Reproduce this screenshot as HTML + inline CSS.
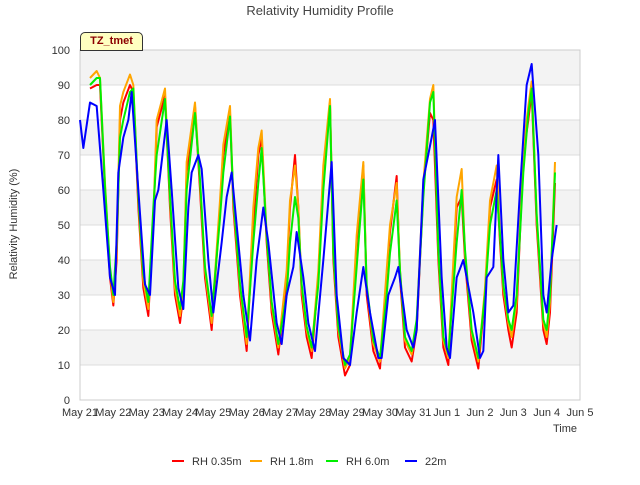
<!DOCTYPE html>
<html><head><meta charset="utf-8"><style>
body{margin:0;background:#fff;font-family:"Liberation Sans",sans-serif}
</style></head><body>
<svg id="c" width="640" height="480" xmlns="http://www.w3.org/2000/svg" font-family="Liberation Sans, sans-serif"></svg>
<script>
const xTicks=["May 21","May 22","May 23","May 24","May 25","May 26","May 27","May 28","May 29","May 30","May 31","Jun 1","Jun 2","Jun 3","Jun 4","Jun 5"];
const yTicks=[0,10,20,30,40,50,60,70,80,90,100];
const seriesNames=["RH 0.35m","RH 1.8m","RH 6.0m","22m"];
const seriesColors=["#ff0000","#ffa500","#00ee00","#0000ff"];
const days=[0.3,0.5,0.6,0.75,0.9,1.0,1.1,1.2,1.3,1.5,1.6,1.75,1.9,2.05,2.2,2.3,2.55,2.7,2.85,3.0,3.1,3.2,3.45,3.6,3.75,3.95,4.2,4.3,4.5,4.6,4.8,5.0,5.2,5.35,5.45,5.6,5.75,5.95,6.2,6.3,6.45,6.55,6.65,6.8,6.95,7.15,7.3,7.5,7.6,7.75,7.95,8.1,8.3,8.5,8.6,8.8,9.0,9.2,9.3,9.5,9.6,9.75,9.95,10.1,10.3,10.5,10.6,10.75,10.9,11.05,11.3,11.45,11.55,11.75,11.95,12.15,12.3,12.5,12.6,12.7,12.85,12.95,13.1,13.3,13.45,13.55,13.7,13.9,14.0,14.1,14.25];
const rh035=[89,90,90,60,35,27,40,80,85,90,88,55,32,24,50,78,87,55,30,22,30,65,84,60,35,20,55,70,82,55,30,14,50,70,75,45,25,13,35,55,70,55,30,18,12,35,65,85,40,18,7,10,45,67,30,14,9,35,48,64,35,15,11,20,60,82,80,40,15,10,55,58,40,17,9,30,55,63,45,30,20,15,25,70,80,88,50,20,16,25,62];
const rh18=[92,94,92,62,37,28,42,84,88,93,90,57,34,26,52,80,89,57,32,24,32,68,85,62,37,22,57,73,84,57,32,16,55,72,77,47,27,15,37,57,67,55,32,20,14,37,67,86,42,20,9,12,47,68,32,16,11,37,50,62,37,17,13,22,62,86,90,42,17,12,58,66,42,19,11,32,57,67,47,32,22,18,28,72,84,91,52,22,18,28,68];
const rh60=[90,92,92,61,38,30,45,75,80,88,89,58,36,28,55,70,86,58,34,26,34,60,82,63,38,24,52,65,81,58,33,18,45,62,72,47,28,16,30,45,58,52,33,21,15,33,60,84,42,21,10,13,38,63,33,17,12,30,42,57,37,18,14,23,58,85,88,43,18,13,45,60,43,20,12,30,50,60,47,33,23,20,30,65,82,89,53,23,20,30,65];
const blueDays=[0,0.1,0.3,0.5,0.7,0.9,1.05,1.15,1.3,1.45,1.55,1.75,1.95,2.1,2.25,2.35,2.6,2.75,2.95,3.1,3.25,3.35,3.55,3.65,3.85,4.0,4.25,4.4,4.55,4.7,4.9,5.1,5.3,5.5,5.65,5.9,6.05,6.2,6.4,6.5,6.7,6.85,7.05,7.3,7.55,7.7,7.9,8.1,8.3,8.5,8.7,8.95,9.05,9.25,9.45,9.55,9.8,10.0,10.1,10.3,10.55,10.65,10.85,11.0,11.1,11.3,11.5,11.8,12.0,12.1,12.2,12.4,12.55,12.7,12.85,13.0,13.2,13.4,13.55,13.75,13.9,14.0,14.15,14.3];
const rh22=[80,72,85,84,60,35,30,65,75,80,88,60,33,30,57,60,80,60,32,26,55,65,70,66,40,25,45,58,65,50,30,17,40,55,45,22,16,30,38,48,35,22,14,40,68,30,12,10,25,38,25,12,12,30,35,38,20,15,20,63,75,80,35,15,12,35,40,25,12,14,35,38,70,40,25,27,60,90,96,70,30,25,40,50];
const svg=document.getElementById('c');const NS='http://www.w3.org/2000/svg';
const L=80,R=580,T=50,B=400;
const xs=d=>L+d*(R-L)/15, ys=v=>B-v*(B-T)/100;
function mk(t,a,p){const e=document.createElementNS(NS,t);for(const k in a)e.setAttribute(k,a[k]);(p||svg).appendChild(e);return e;}
for(let v=0;v<100;v+=10){if((v/10)%2==1){const r=mk('rect',{x:L,y:ys(v+10),width:R-L,height:ys(v)-ys(v+10),fill:'#f3f3f3'});

}}
yTicks.forEach(v=>{const l=mk('line',{x1:L,x2:R,y1:ys(v),y2:ys(v),stroke:'#dddddd'});


const t=mk('text',{x:L-10,y:ys(v)+4,'text-anchor':'end','font-size':11,fill:'#333'});t.textContent=v;

});
mk('rect',{x:L,y:T,width:R-L,height:B-T,fill:'none',stroke:'#cccccc'});
xTicks.forEach((s,i)=>{const t=mk('text',{x:xs(i),y:416,'text-anchor':'middle','font-size':11,fill:'#333'});t.textContent=s;

});
function line(dd,vv,col,name){const p=mk('polyline',{points:dd.map((d,i)=>xs(d)+','+ys(vv[i])).join(' '),fill:'none',stroke:col,'stroke-width':2,'stroke-linejoin':'round'});

}
line(days,rh035,seriesColors[0],'series-rh-0-35m');
line(days,rh18,seriesColors[1],'series-rh-1-8m');
line(days,rh60,seriesColors[2],'series-rh-6-0m');
line(blueDays,rh22,seriesColors[3],'series-22m');
const lx=[172,250,326,405];
seriesNames.forEach((n,i)=>{const l=mk('line',{x1:lx[i],x2:lx[i]+12,y1:461,y2:461,stroke:seriesColors[i],'stroke-width':2});


const t=mk('text',{x:lx[i]+20,y:465,'font-size':11,fill:'#333'});t.textContent=n;

});
</script>
<div style="position:absolute;left:0;top:3px;width:640px;text-align:center;font-size:13px;color:#444">Relativity Humidity Profile</div>
<div style="position:absolute;left:-86px;top:218px;width:200px;text-align:center;font-size:11px;color:#333;transform:rotate(-90deg)">Relativity Humidity (%)</div>
<div style="position:absolute;left:553px;top:423px;font-size:11px;color:#333">Time</div>
<div style="position:absolute;left:80px;top:32px;width:61px;height:17px;background:#ffffc0;border:1px solid #333;border-radius:5px 5px 0 0;font-size:11px;font-weight:bold;color:#8b0000;text-align:center;line-height:17px">TZ_tmet</div>
</body></html>
